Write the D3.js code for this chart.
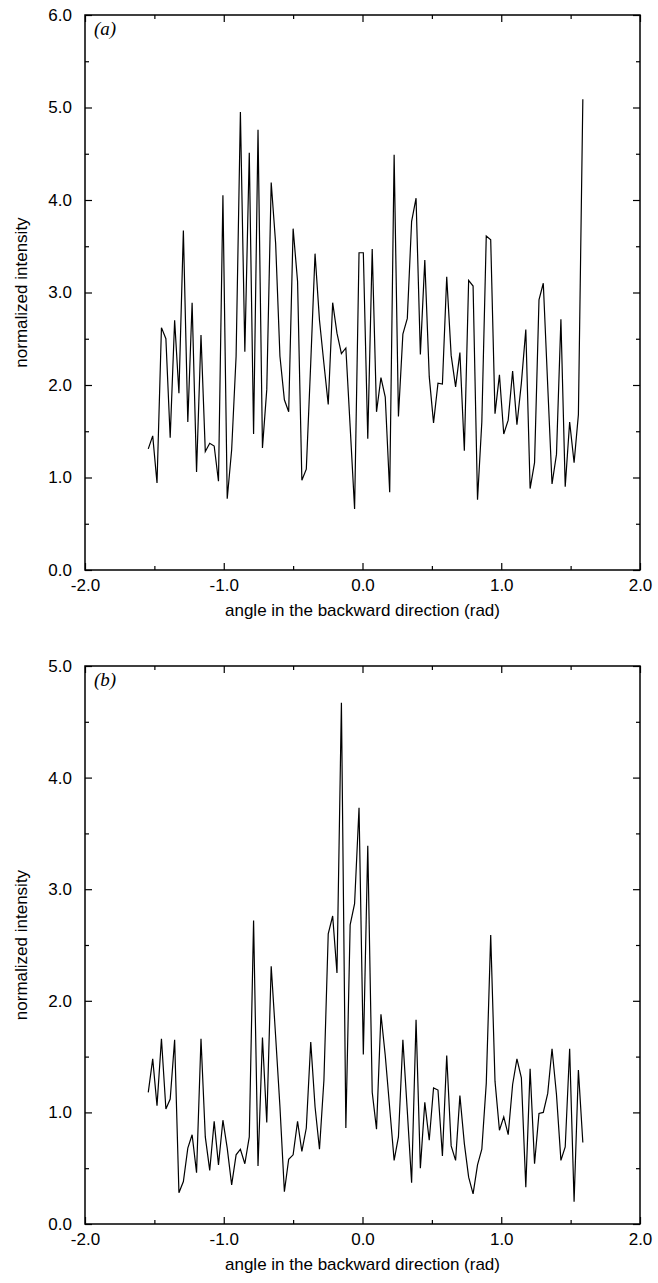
<!DOCTYPE html>
<html>
<head>
<meta charset="utf-8">
<script src="https://cdn.jsdelivr.net/npm/d3@7"></script>
<style>
  body { margin: 0; background: #fff; }
  .tick text { font-family: "Liberation Sans", Arial, sans-serif; font-size: 17px; fill: #000; }
  .ttl { font-family: "Liberation Sans", Arial, sans-serif; font-size: 17px; fill: #000; }
  .lbl { font-family: "Liberation Serif", "Times New Roman", serif; font-style: italic; font-size: 19px; }
</style>
</head>
<body>
<div id="chart"></div>
<script>
// angle grid (rad), shared by both panels
const angles = [
  -1.544, -1.512, -1.481, -1.449, -1.417, -1.386, -1.354, -1.323, -1.291, -1.259,
  -1.228, -1.196, -1.164, -1.133, -1.101, -1.069, -1.038, -1.006, -0.975, -0.943,
  -0.911, -0.880, -0.848, -0.816, -0.785, -0.753, -0.721, -0.690, -0.658, -0.626,
  -0.595, -0.563, -0.532, -0.500, -0.468, -0.437, -0.405, -0.373, -0.342, -0.310,
  -0.278, -0.247, -0.215, -0.184, -0.152, -0.120, -0.089, -0.057, -0.025, 0.006,
  0.038, 0.070, 0.101, 0.133, 0.164, 0.196, 0.228, 0.259, 0.291, 0.323,
  0.354, 0.386, 0.417, 0.449, 0.481, 0.512, 0.544, 0.576, 0.607, 0.639,
  0.671, 0.702, 0.734, 0.765, 0.797, 0.829, 0.860, 0.892, 0.924, 0.955,
  0.987, 1.018, 1.050, 1.082, 1.113, 1.145, 1.177, 1.208, 1.240, 1.272,
  1.303, 1.335, 1.366, 1.398, 1.430, 1.461, 1.493, 1.525, 1.556, 1.588
];

// panel (a) intensities
const intensityA = [
  1.31, 1.45, 0.94, 2.62, 2.50, 1.43, 2.70, 1.91, 3.67, 1.60,
  2.89, 1.06, 2.54, 1.28, 1.37, 1.34, 0.96, 4.05, 0.77, 1.30,
  2.31, 4.95, 2.36, 4.51, 1.47, 4.76, 1.32, 1.95, 4.19, 3.53,
  2.31, 1.84, 1.71, 3.69, 3.12, 0.97, 1.09, 2.24, 3.42, 2.70,
  2.23, 1.79, 2.89, 2.56, 2.34, 2.40, 1.55, 0.66, 3.43, 3.43,
  1.42, 3.47, 1.71, 2.08, 1.87, 0.84, 4.49, 1.66, 2.55, 2.72,
  3.77, 4.02, 2.33, 3.35, 2.09, 1.59, 2.02, 2.01, 3.17, 2.32,
  1.98, 2.35, 1.29, 3.13, 3.07, 0.76, 1.60, 3.61, 3.57, 1.69,
  2.11, 1.47, 1.62, 2.15, 1.57, 2.02, 2.60, 0.88, 1.16, 2.92,
  3.10, 1.99, 0.93, 1.25, 2.71, 0.90, 1.60, 1.16, 1.68, 5.09
];

// panel (b) intensities
const intensityB = [
  1.18, 1.48, 1.06, 1.66, 1.03, 1.12, 1.65, 0.28, 0.38, 0.68,
  0.80, 0.46, 1.66, 0.78, 0.48, 0.92, 0.53, 0.93, 0.68, 0.35,
  0.62, 0.67, 0.54, 0.78, 2.72, 0.52, 1.67, 0.91, 2.31, 1.68,
  1.05, 0.29, 0.58, 0.62, 0.92, 0.65, 0.86, 1.63, 1.05, 0.67,
  1.29, 2.60, 2.76, 2.25, 4.67, 0.86, 2.68, 2.87, 3.73, 1.52,
  3.39, 1.18, 0.85, 1.88, 1.51, 1.04, 0.57, 0.78, 1.65, 1.01,
  0.37, 1.83, 0.50, 1.09, 0.75, 1.22, 1.20, 0.61, 1.51, 0.70,
  0.57, 1.15, 0.72, 0.42, 0.27, 0.53, 0.67, 1.26, 2.59, 1.28,
  0.84, 0.96, 0.80, 1.25, 1.48, 1.31, 0.33, 1.39, 0.54, 0.99,
  1.00, 1.17, 1.57, 1.16, 0.57, 0.69, 1.57, 0.20, 1.38, 0.73
];

const xTicks = [-2, -1, 0, 1, 2];
const xMinor = [-1.5, -0.5, 0.5, 1.5];
const yTicksA = [0, 1, 2, 3, 4, 5, 6];
const yTicksB = [0, 1, 2, 3, 4, 5];
const xTitle = "angle in the backward direction (rad)";
const yTitle = "normalized intensity";

const W = 658, H = 1283;
const svg = d3.select("#chart").append("svg")
    .attr("width", W)
    .attr("height", H);

// plain hyphen minus like the original figure
const fmt = d => d.toFixed(1);

function drawPanel(cfg){
    const left = 85, width = 555;
    const x = d3.scaleLinear().domain([-2, 2]).range([left, left + width]);
    const y = d3.scaleLinear().domain([0, cfg.yMax]).range([cfg.top + cfg.height, cfg.top]);
    const yMinor = d3.range(0.5, cfg.yMax, 1);
    const g = svg.append("g");
    const bottom = cfg.top + cfg.height, right = left + width;

    // major ticks with labels (inward)
    g.append("g")
        .attr("transform", "translate(0," + bottom + ")")
        .call(d3.axisBottom(x).tickValues(xTicks).tickSize(-7).tickPadding(9).tickFormat(fmt))
        .call(a => a.select(".domain").remove());
    g.append("g")
        .attr("transform", "translate(" + left + ",0)")
        .call(d3.axisLeft(y).tickValues(cfg.yTicks).tickSize(-7).tickPadding(13).tickFormat(fmt))
        .call(a => a.select(".domain").remove());
    // minor ticks bottom/left
    g.append("g")
        .attr("transform", "translate(0," + bottom + ")")
        .call(d3.axisBottom(x).tickValues(xMinor).tickSize(-4).tickFormat(""))
        .call(a => a.select(".domain").remove());
    g.append("g")
        .attr("transform", "translate(" + left + ",0)")
        .call(d3.axisLeft(y).tickValues(yMinor).tickSize(-4).tickFormat(""))
        .call(a => a.select(".domain").remove());
    // top / right mirrored ticks
    g.append("g")
        .attr("transform", "translate(0," + cfg.top + ")")
        .call(d3.axisTop(x).tickValues(xTicks).tickSize(-7).tickFormat(""))
        .call(a => a.select(".domain").remove());
    g.append("g")
        .attr("transform", "translate(0," + cfg.top + ")")
        .call(d3.axisTop(x).tickValues(xMinor).tickSize(-4).tickFormat(""))
        .call(a => a.select(".domain").remove());
    g.append("g")
        .attr("transform", "translate(" + right + ",0)")
        .call(d3.axisRight(y).tickValues(cfg.yTicks).tickSize(-7).tickFormat(""))
        .call(a => a.select(".domain").remove());
    g.append("g")
        .attr("transform", "translate(" + right + ",0)")
        .call(d3.axisRight(y).tickValues(yMinor).tickSize(-4).tickFormat(""))
        .call(a => a.select(".domain").remove());
    g.selectAll(".tick line").attr("stroke", "#000").attr("stroke-width", 1.2);

    // frame
    g.append("rect")
        .attr("x", left).attr("y", cfg.top)
        .attr("width", width).attr("height", cfg.height)
        .attr("fill", "none").attr("stroke", "#000").attr("stroke-width", 1.5);

    // data line
    const line = d3.line()
        .x((d, i) => x(angles[i]))
        .y(d => y(d));
    g.append("path")
        .datum(cfg.values)
        .attr("d", line)
        .attr("fill", "none")
        .attr("stroke", "#000")
        .attr("stroke-width", 1.2)
        .attr("stroke-linejoin", "miter");

    // titles
    g.append("text").attr("class", "ttl")
        .attr("x", (left + right) / 2).attr("y", bottom + 46)
        .attr("text-anchor", "middle")
        .text(xTitle);
    g.append("text").attr("class", "ttl")
        .attr("transform", "translate(27," + (cfg.top + cfg.height / 2) + ") rotate(-90)")
        .attr("text-anchor", "middle")
        .text(yTitle);
    g.append("text").attr("class", "lbl")
        .attr("x", left + 9).attr("y", cfg.top + 20)
        .text(cfg.label);
}

drawPanel({top: 15, height: 555, yMax: 6, yTicks: yTicksA, values: intensityA, label: "(a)"});
drawPanel({top: 666, height: 558, yMax: 5, yTicks: yTicksB, values: intensityB, label: "(b)"});
</script>
</body>
</html>
